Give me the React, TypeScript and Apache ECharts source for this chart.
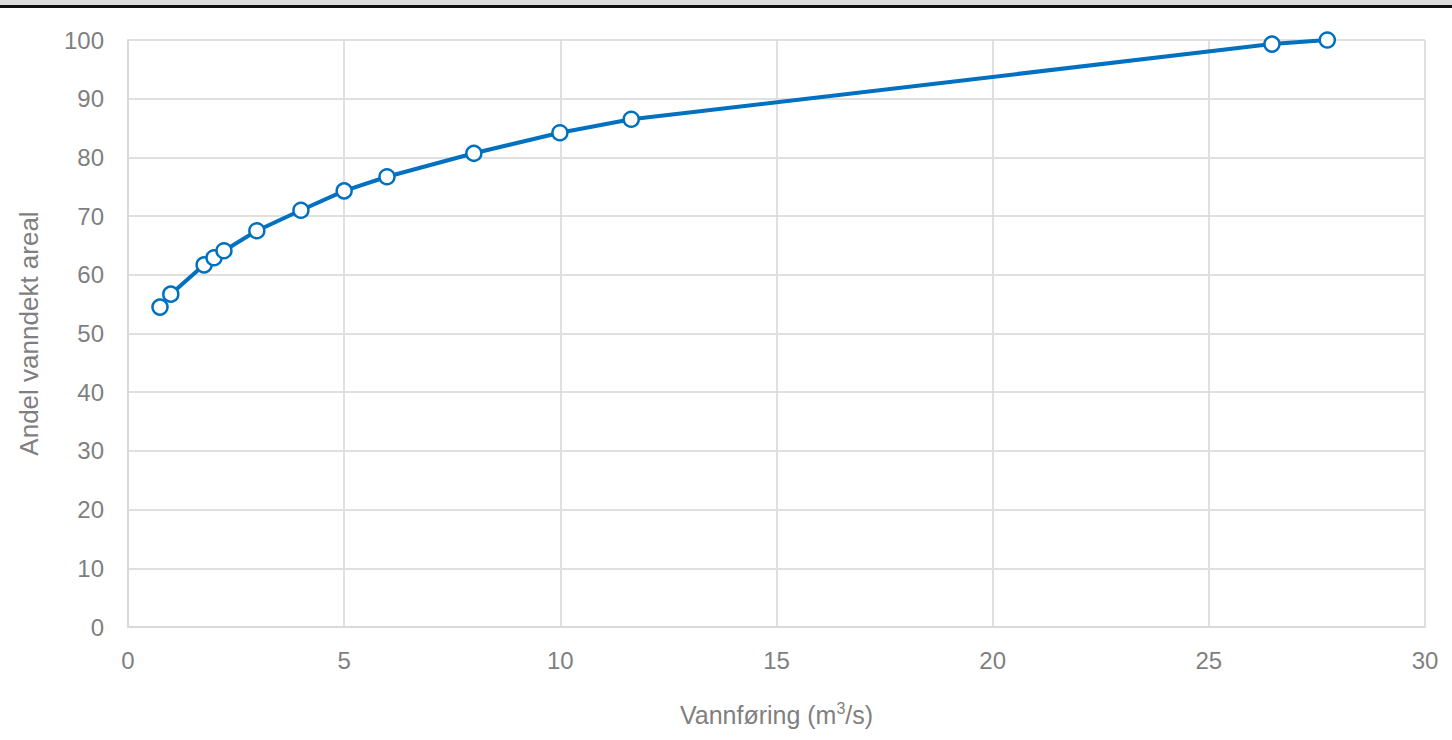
import React, { useEffect, useRef } from "react";
import * as echarts from "echarts";

const flowValues = [0.74, 0.99, 1.76, 1.99, 2.22, 2.98, 4.0, 5.0, 5.99, 8.0, 9.99, 11.64, 26.46, 27.74];
const areaShare = [54.5, 56.7, 61.7, 62.9, 64.1, 67.5, 71.0, 74.3, 76.7, 80.7, 84.2, 86.5, 99.3, 100];
const xTitle = "Vannføring (m{sup|3}/s)";
const yTitle = "Andel vanndekt areal";

export default function App() {
  const ref = useRef<HTMLDivElement>(null);
  useEffect(() => {
    if (!ref.current) return;
    const chart = echarts.init(ref.current, null, { renderer: "svg" });
    const grey = "#7f7f7f";
    const font = "Liberation Sans, Arial, sans-serif";
    chart.setOption({
      animation: false,
      backgroundColor: "#ffffff",
      textStyle: { fontFamily: font },
      graphic: [
        { type: "rect", left: 0, top: 0, shape: { width: 1452, height: 5 }, style: { fill: "#dcdcdc" } },
        { type: "rect", left: 0, top: 5, shape: { width: 1452, height: 3 }, style: { fill: "#111111" } },
      ],
      grid: { left: 128, right: 27, top: 40, bottom: 113, containLabel: false },
      xAxis: {
        type: "value",
        min: 0,
        max: 30,
        interval: 5,
        name: xTitle,
        nameLocation: "middle",
        nameGap: 73,
        nameTextStyle: {
          color: grey,
          fontSize: 25,
          fontFamily: font,
          rich: { sup: { fontSize: 16, color: grey, fontFamily: font, verticalAlign: "top", lineHeight: 30 } },
        },
        axisLine: { show: true, lineStyle: { color: "#d9d9d9", width: 2 } },
        axisTick: { show: false },
        axisLabel: { color: grey, fontSize: 24, margin: 21 },
        splitLine: { show: true, lineStyle: { color: "#e0e0e0", width: 2 } },
      },
      yAxis: {
        type: "value",
        min: 0,
        max: 100,
        interval: 10,
        name: yTitle,
        nameLocation: "middle",
        nameGap: 86,
        nameRotate: 90,
        nameTextStyle: { color: grey, fontSize: 26, fontFamily: font },
        axisLine: { show: true, lineStyle: { color: "#d9d9d9", width: 2 } },
        axisTick: { show: false },
        axisLabel: { color: grey, fontSize: 24, margin: 24 },
        splitLine: { show: true, lineStyle: { color: "#e0e0e0", width: 2 } },
      },
      series: [
        {
          type: "line",
          data: flowValues.map((x, i) => [x, areaShare[i]]),
          lineStyle: { color: "#0070c0", width: 4 },
          itemStyle: { color: "#ffffff", borderColor: "#0070c0", borderWidth: 2.5 },
          symbol: "circle",
          symbolSize: 15,
          showSymbol: true,
        },
      ],
    });
    return () => chart.dispose();
  }, []);
  return <div ref={ref} style={{ position: "fixed", left: 0, top: 0, width: 1452, height: 740 }} />;
}
